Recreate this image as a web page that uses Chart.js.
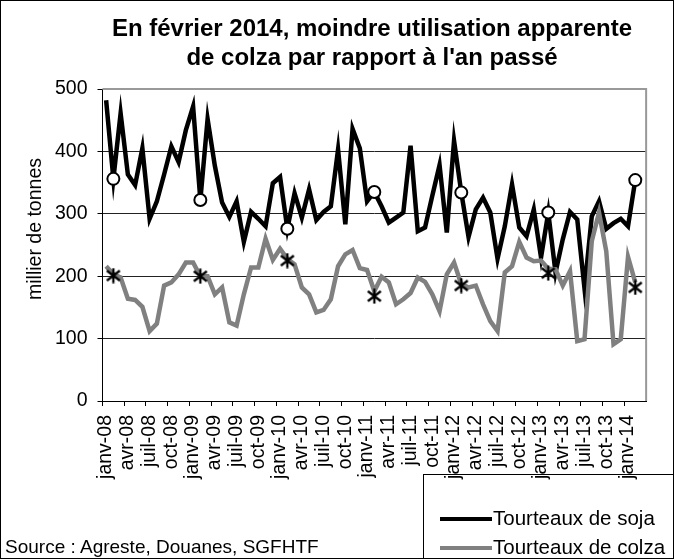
<!DOCTYPE html>
<html><head><meta charset="utf-8">
<script src="https://cdn.jsdelivr.net/npm/chart.js@4"></script>
<style>
html,body{margin:0;padding:0;background:#fff;}
#wrap{position:relative;width:674px;height:559px;box-sizing:border-box;border:1px solid #000;overflow:hidden;font-family:"Liberation Sans",Arial,sans-serif;}
#c{position:absolute;left:0;top:0;}
#title{position:absolute;left:70px;width:602px;top:12px;text-align:center;font-weight:bold;font-size:24px;line-height:29px;color:#000;}
#ytitle{position:absolute;left:33px;top:228px;width:0;height:0;}
#ytitle span{position:absolute;left:0;top:0;transform:translate(-50%,-50%) rotate(-90deg);white-space:nowrap;font-size:19.5px;line-height:22px;color:#000;}
#source{position:absolute;left:4px;top:535px;font-size:19px;line-height:22px;color:#000;}
#legend{position:absolute;left:422px;top:473px;width:260px;height:100px;border:1px solid #000;box-sizing:border-box;}
.row{position:absolute;left:16px;height:22px;font-size:20.5px;line-height:22px;white-space:nowrap;}
.sw{display:inline-block;width:52px;height:4px;vertical-align:middle;margin-right:1px;position:relative;top:-1px;}
</style></head>
<body>
<div id="wrap">
<canvas id="c" width="674" height="559"></canvas>
<div id="title">En février 2014, moindre utilisation apparente<br>de colza par rapport à l'an passé</div>
<div id="ytitle"><span>millier de tonnes</span></div>
<div id="legend">
  <div class="row" style="top:32px"><span class="sw" style="background:#000"></span>Tourteaux de soja</div>
  <div class="row" style="top:61px"><span class="sw" style="background:#808080"></span>Tourteaux de colza</div>
</div>
<div id="source">Source : Agreste, Douanes, SGFHTF</div>
</div>
<script>
const months = ['janv','févr','mars','avr','mai','juin','juil','août','sept','oct','nov','déc'];
const years = ['08','09','10','11','12','13','14'];
const categories = [];
years.forEach(y => months.forEach(m => categories.push(m + '-' + y)));
categories.length = 75; // janv-08 … mars-14 (last month empty)

const soja = [482,356,461,363,346,405,292,320,363,408,
              383,434,472,322,452,377,318,295,320,255,
              303,292,280,349,359,276,333,294,339,290,
              303,312,403,283,436,405,320,335,312,286,
              294,302,409,272,278,329,378,270,417,334,
              263,307,326,302,228,280,347,278,264,307,
              230,302,206,259,303,291,180,296,320,276,
              285,292,280,354];
const colza = [216,203,198,164,162,151,112,124,185,190,
               203,222,222,200,200,171,182,126,121,171,
               214,214,260,226,244,228,219,182,171,142,
               146,163,216,235,242,213,210,176,199,190,
               155,163,173,198,191,171,144,203,222,187,
               182,185,155,128,112,206,216,255,230,224,
               225,212,211,185,208,96,99,256,302,240,
               91,99,231,190];
const markerLabels = ['févr-08','févr-09','févr-10','févr-11','févr-12','févr-13','févr-14'];
const sojaFeb = [356,322,276,335,334,302,354];
const colzaFeb = [201,200,225,168,185,205,182];
const yTicks = [0,100,200,300,400,500];

// asterisk marker
const star = document.createElement('canvas');
star.width = 16; star.height = 16;
(function(){
  const g = star.getContext('2d');
  g.strokeStyle = '#000'; g.lineWidth = 2.3;
  g.beginPath();
  g.moveTo(1.5,3); g.lineTo(14.5,13);
  g.moveTo(1.5,13); g.lineTo(14.5,3);
  g.moveTo(8,0.5); g.lineTo(8,15.5);
  g.stroke();
})();

const frame = {
  id:'frame',
  beforeDatasetsDraw(chart){
    const a = chart.chartArea, g = chart.ctx;
    g.save();
    g.strokeStyle = '#999'; g.lineWidth = 2;
    g.beginPath();
    g.moveTo(a.left, a.top); g.lineTo(a.right, a.top); g.lineTo(a.right, a.bottom);
    g.stroke();
    g.restore();
  }
};

const FONT = 'Liberation Sans, Arial, sans-serif';
new Chart(document.getElementById('c'), {
  type:'line',
  data:{
    labels: categories,
    datasets:[
      {label:'Tourteaux de soja', data: soja, borderColor:'#000', borderWidth:4.5, pointRadius:0, tension:0, order:4},
      {label:'Tourteaux de colza', data: colza, borderColor:'#808080', borderWidth:4.5, pointRadius:0, tension:0, order:3},
      {label:'colza févr', data: markerLabels.map((l,i)=>({x:l,y:colzaFeb[i]})), showLine:false, pointStyle: star, pointRadius:8, order:2},
      {label:'soja févr', data: markerLabels.map((l,i)=>({x:l,y:sojaFeb[i]})), showLine:false, pointStyle:'circle', pointRadius:6, pointBorderWidth:2, pointBorderColor:'#000', pointBackgroundColor:'#fff', order:1}
    ]
  },
  options:{
    responsive:false, animation:false,
    layout:{padding:{left:22, right:14, top:88, bottom:0}},
    plugins:{legend:{display:false}, tooltip:{enabled:false}, title:{display:false}},
    scales:{
      x:{
        offset:true,
        afterFit(s){ s.height = 159; },
        grid:{offset:true, drawOnChartArea:false, tickLength:5, tickColor:(ctx)=> (ctx.index % 3 === 0 ? '#000' : 'rgba(0,0,0,0)'), color:'rgba(0,0,0,0)'},
        border:{color:'#000', width:1},
        ticks:{autoSkip:false, maxRotation:90, minRotation:90, padding:9, color:'#000', font:{family:FONT, size:19.5},
          callback:function(v, i){ return i % 3 === 0 ? this.getLabelForValue(v) : ''; }}
      },
      y:{
        min:0, max:500,
        afterFit(s){ s.width = 79.5; },
        afterBuildTicks(s){ s.ticks = yTicks.map(v=>({value:v})); },
        grid:{color:(ctx)=> (ctx.tick && ctx.tick.value === 500 ? 'rgba(0,0,0,0)' : '#222'), tickColor:'#000', tickLength:5, lineWidth:1},
        border:{color:'#000', width:1},
        ticks:{padding:10, color:'#000', font:{family:FONT, size:19.5}}
      }
    }
  },
  plugins:[frame]
});
</script>
</body></html>
